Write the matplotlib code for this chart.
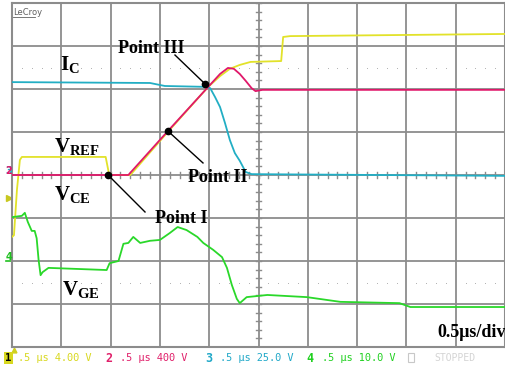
import matplotlib
matplotlib.use("Agg")
import matplotlib.pyplot as plt

# time axis in microseconds (0.5 us/div, 10 divisions), levels in divisions
ch1_t = [0.00, 0.02, 0.05, 0.08, 0.10, 0.95, 0.98, 1.01, 1.20, 1.58, 1.99,
         2.11, 2.21, 2.31, 2.42, 2.73, 2.75, 2.82, 5.00]
ch1_v = [-1.44, -1.40, -0.35, 0.35, 0.42, 0.42, 0.07, 0.00, 0.00, 1.00, 2.05,
         2.30, 2.47, 2.56, 2.63, 2.65, 3.21, 3.23, 3.28]

ch2_t = [0.00, 1.18, 1.58, 1.99, 2.11, 2.19, 2.25, 2.31, 2.37, 2.43, 2.47,
         2.54, 5.00]
ch2_v = [0.00, 0.00, 1.02, 2.05, 2.35, 2.49, 2.47, 2.35, 2.19, 2.02, 1.95,
         1.98, 1.98]

ch3_t = [0.00, 1.40, 1.55, 1.96, 2.01, 2.06, 2.11, 2.16, 2.21, 2.26, 2.31,
         2.37, 2.43, 5.00]
ch3_v = [2.16, 2.14, 2.07, 2.05, 2.02, 1.81, 1.58, 1.21, 0.81, 0.51, 0.33,
         0.07, 0.02, -0.02]

ch4_t = [0.00, 0.10, 0.13, 0.16, 0.20, 0.23, 0.25, 0.27, 0.29, 0.31, 0.37,
         0.96, 0.99, 1.08, 1.13, 1.18, 1.23, 1.30, 1.40, 1.50, 1.60, 1.68,
         1.77, 1.88, 1.94, 2.04, 2.13, 2.18, 2.23, 2.28, 2.31, 2.38, 2.59,
         2.99, 3.33, 3.93, 4.04, 5.00]
ch4_v = [-0.98, -0.95, -0.88, -1.09, -1.30, -1.30, -1.47, -1.98, -2.33, -2.26,
         -2.16, -2.21, -2.05, -2.00, -1.60, -1.58, -1.44, -1.58, -1.53, -1.51,
         -1.35, -1.21, -1.28, -1.44, -1.58, -1.74, -1.91, -2.16, -2.56, -2.88,
         -2.98, -2.84, -2.79, -2.84, -2.95, -2.98, -3.07, -3.07]

# marked points (t, level)
points = {"Point I": (0.974, 0.00), "Point II": (1.582, 1.02),
          "Point III": (1.957, 2.12)}

channel_labels = [("1", ".5 \u03bcs 4.00 V", "#d8d820"),
                  ("2", ".5 \u03bcs 400 V", "#e0206a"),
                  ("3", ".5 \u03bcs 25.0 V", "#20a8c8"),
                  ("4", ".5 \u03bcs 10.0 V", "#20d020")]

YEL = "#e2e22a"
MAG = "#e0186a"
CYA = "#22aec4"
GRN = "#2ad82a"
GRID = "#8c8c8c"

plt.rcParams["mathtext.fontset"] = "custom"
plt.rcParams["mathtext.bf"] = "Liberation Serif:bold"
plt.rcParams["mathtext.rm"] = "Liberation Serif:bold"

fig = plt.figure(figsize=(5.05, 3.69), dpi=100)
ax = fig.add_axes([12 / 505, 22 / 369, 493 / 505, 344 / 369])
ax.set_xlim(0, 5)
ax.set_ylim(-4, 4)
ax.set_xticks([])
ax.set_yticks([])
for s in ax.spines.values():
    s.set_color(GRID)
    s.set_linewidth(1.5)

# graticule
for i in range(1, 10):
    ax.axvline(i * 0.5, color=GRID, lw=1.3, zorder=1)
for j in range(-3, 4):
    ax.axhline(j, color=GRID, lw=1.3, zorder=1)

# minor ticks on the centre lines
for k in range(1, 50):
    x = k * 0.1
    ax.plot([x, x], [-0.07, 0.07], color=GRID, lw=1.0, zorder=1)
for k in range(-20, 21):
    y = k * 0.2
    ax.plot([2.47, 2.53], [y, y], color=GRID, lw=1.0, zorder=1)

# dotted reference levels
dots_x = [k * 0.1 for k in range(1, 50) if k % 5 != 0]
for lvl in (2.5, -2.5):
    ax.plot(dots_x, [lvl] * len(dots_x), ls="none", marker="s", ms=0.7,
            mew=0, color="#b4b4b4", zorder=1)

ax.plot(ch1_t, ch1_v, color=YEL, lw=1.3, zorder=3)
ax.plot(ch3_t, ch3_v, color=CYA, lw=1.3, zorder=3)
ax.plot(ch2_t, ch2_v, color=MAG, lw=1.3, zorder=4)
ax.plot(ch4_t, ch4_v, color=GRN, lw=1.3, zorder=3)

# point markers with leader lines
lead = {"Point I": (1.349, -0.86), "Point II": (1.937, 0.28),
        "Point III": (1.653, 2.79)}
for name, (pt, pv) in points.items():
    lx, ly = lead[name]
    ax.plot([pt, lx], [pv, ly], color="black", lw=1.0, zorder=5)
    ax.plot(pt, pv, "o", color="black", ms=4.5, zorder=6)

bold = dict(family="Liberation Serif", weight="bold", color="black",
            va="baseline", zorder=7)
ax.text(1.075, 2.84, "Point III", fontsize=13, **bold)
ax.text(1.785, -0.16, "Point II", fontsize=13, **bold)
ax.text(1.45, -1.12, "Point I", fontsize=13, **bold)
ax.text(0.49, 2.44, r"$\mathbf{I}_{\mathbf{C}}$", fontsize=15, **bold)
ax.text(0.43, 0.53, r"$\mathbf{V}_{\mathbf{REF}}$", fontsize=15, **bold)
ax.text(0.43, -0.58, r"$\mathbf{V}_{\mathbf{CE}}$", fontsize=15, **bold)
ax.text(0.51, -2.79, r"$\mathbf{V}_{\mathbf{GE}}$", fontsize=15, **bold)
ax.text(4.31, -3.77, "0.5\u03bcs/div", fontsize=13, clip_on=True, **bold)

# channel ground markers on the left edge
ax.text(-0.035, 0.1, "3", color=CYA, fontsize=7, weight="bold",
        ha="center", va="center", clip_on=False)
ax.text(-0.035, 0.1, "2", color=MAG, fontsize=7, weight="bold",
        ha="center", va="center", clip_on=False)
ax.plot(-0.03, -0.53, ">", color="#c8c820", ms=4, clip_on=False)
ax.text(-0.035, -1.9, "4", color="#20c020", fontsize=7, weight="bold",
        ha="center", va="center", clip_on=False)
ax.plot([-0.06, 0.0], [-2.0, -2.0], color="#20c020", lw=1.2, clip_on=False)
ax.plot(0.02, -4.07, "^", color="#d0d020", ms=3.5, clip_on=False)

# brand mark
fig.text(13 / 505, 1 - 15 / 369, "LeCroy", fontsize=6, color="#606060",
         family="DejaVu Sans")
fig.add_artist(plt.Line2D([13 / 505, 35 / 505], [1 - 17 / 369, 1 - 17 / 369],
                          color="#606060", lw=0.6))

# channel setting row
row_y = 1 - 358 / 369
num_x = [8.5, 109, 209, 310]
txt_x = [18, 120, 220, 322]
for (num, desc, col), nx, tx in zip(channel_labels, num_x, txt_x):
    if num == "1":
        fig.text(nx / 505, row_y, num, color="black", fontsize=7.5,
                 weight="bold", ha="center", va="center", family="DejaVu Sans Mono",
                 bbox=dict(boxstyle="square,pad=0.1", fc=col, ec="none"))
    else:
        fig.text(nx / 505, row_y, num, color=col, fontsize=8.5, weight="bold",
                 ha="center", va="center", family="DejaVu Sans Mono")
    fig.text(tx / 505, row_y, desc, color=col, fontsize=7.4, ha="left",
             va="center", family="DejaVu Sans Mono")
fig.add_artist(plt.Rectangle((408 / 505, row_y - 0.012), 6 / 505, 0.026,
                             fill=False, ec="#c8c8c8", lw=0.8))
fig.text(434 / 505, row_y, "STOPPED", color="#d4d4d4", fontsize=7.0,
         ha="left", va="center", family="DejaVu Sans Mono")

fig.savefig("out.png", dpi=100)
